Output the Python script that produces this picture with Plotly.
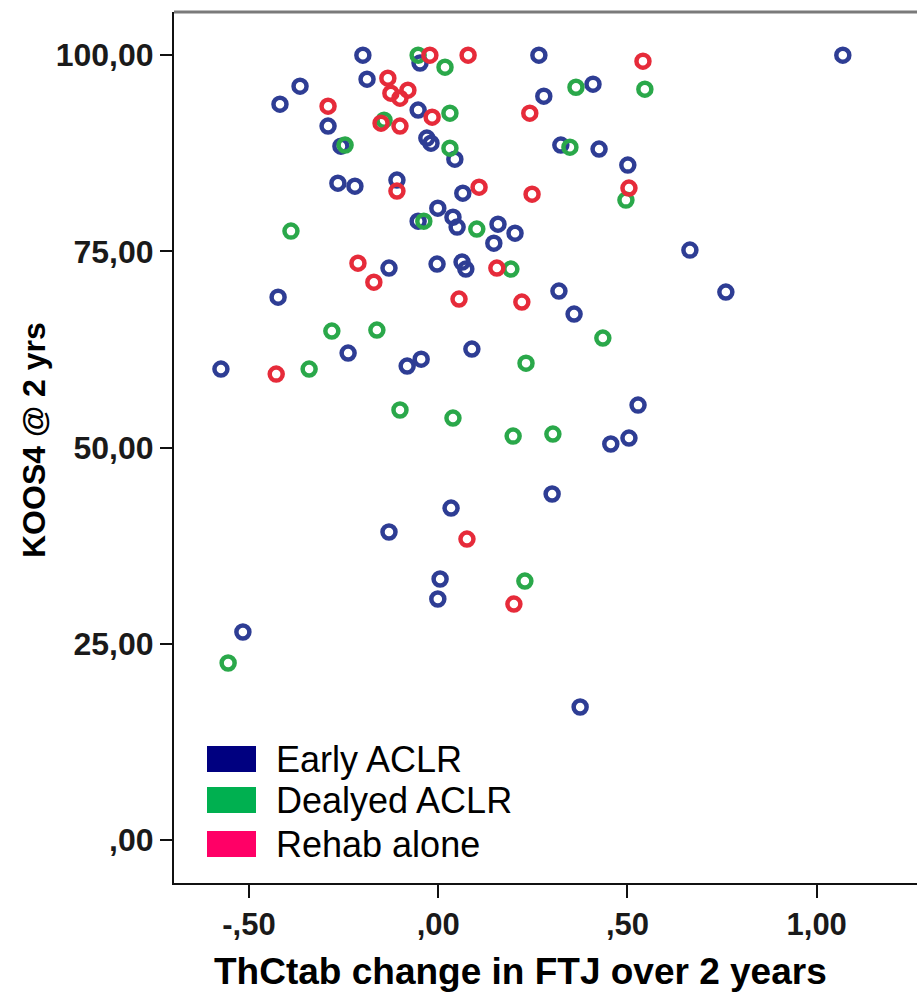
import plotly.graph_objects as go

# ---------------- data ----------------
groups = ["Early ACLR", "Dealyed ACLR", "Rehab alone"]

early_x = [-0.199, -0.048, 0.266, 1.069, -0.365, -0.188, -0.418, -0.053, 0.279, 0.409,
           -0.291, -0.257, -0.030, -0.019, 0.044, 0.324, 0.425, 0.501, -0.265, -0.220,
           -0.109, 0.065, -0.001, 0.039, 0.050, -0.053, 0.158, 0.203, 0.147, 0.665,
           0.760, -0.130, -0.003, 0.063, 0.073, -0.423, 0.319, 0.359, -0.238, -0.574,
           -0.082, -0.045, 0.089, 0.528, 0.456, 0.504, 0.301, 0.034, -0.130, 0.005,
           -0.001, -0.516, 0.375]
early_y = [100.0, 99.0, 100.0, 100.0, 96.05, 96.94, 93.76, 93.0, 94.78, 96.31,
           90.96, 88.41, 89.43, 88.79, 86.75, 88.54, 88.03, 85.99, 83.69, 83.31,
           84.08, 82.42, 80.51, 79.36, 78.09, 78.85, 78.47, 77.32, 76.05, 75.16,
           69.81, 72.87, 73.38, 73.63, 72.74, 69.17, 69.94, 67.01, 62.04, 60.0,
           60.38, 61.27, 62.55, 55.41, 50.45, 51.21, 44.08, 42.29, 39.24, 33.25,
           30.70, 26.50, 16.94]

delayed_x = [-0.053, 0.018, 0.364, 0.546, -0.246, 0.031, 0.031, 0.348, 0.496, -0.143,
             -0.038, 0.102, -0.389, 0.192, 0.435, -0.281, -0.162, -0.341, 0.232, -0.101,
             0.039, 0.198, 0.303, 0.229, -0.555]
delayed_y = [100.0, 98.47, 95.92, 95.67, 88.54, 92.61, 88.15, 88.28, 81.53, 91.72,
             78.85, 77.84, 77.58, 72.74, 63.95, 64.84, 64.97, 60.0, 60.76, 54.78,
             53.76, 51.46, 51.72, 32.99, 22.55]

rehab_x = [-0.022, 0.079, 0.541, -0.133, -0.125, -0.101, -0.080, -0.291, -0.016, 0.242,
           -0.151, -0.101, -0.109, 0.108, 0.248, 0.504, -0.212, -0.170, 0.155, 0.055,
           0.221, -0.428, 0.076, 0.200]
rehab_y = [100.0, 100.0, 99.24, 97.07, 95.16, 94.52, 95.54, 93.50, 92.10, 92.61,
           91.34, 90.96, 82.68, 83.18, 82.29, 83.06, 73.50, 71.08, 72.87, 68.92,
           68.54, 59.36, 38.34, 30.06]

x_tickvals = [-0.5, 0.0, 0.5, 1.0]
x_ticktext = ["-,50", ",00", ",50", "1,00"]
y_tickvals = [0, 25, 50, 75, 100]
y_ticktext = [",00", "25,00", "50,00", "75,00", "100,00"]

x_title = "ThCtab change in FTJ over 2 years"
y_title = "KOOS4 @ 2 yrs"

# ---------------- styling ----------------
W, H = 917, 995
L, R, T, B = 174, 0, 12, 112
marker_colors = ["#2e3d94", "#2aa84a", "#e62b3a"]
legend_colors = ["#000080", "#00b050", "#ff0066"]
FONT = "Liberation Sans, Arial, sans-serif"

fig = go.Figure()
for name, xs, ys, col in zip(groups,
                             [early_x, delayed_x, rehab_x],
                             [early_y, delayed_y, rehab_y],
                             marker_colors):
    fig.add_trace(go.Scatter(
        x=xs, y=ys, mode="markers", name=name, showlegend=False,
        marker=dict(symbol="circle-open", size=13, color=col,
                    line=dict(width=4.5, color=col)),
    ))

pw = W - L - R
ph = H - T - B


def px2paper_x(px):
    return (px - L) / pw


def px2paper_y(py):
    return (H - B - py) / ph


shapes = []
annotations = []

# top frame line
shapes.append(dict(type="line", xref="paper", yref="paper", x0=0, x1=1, y0=1, y1=1,
                   line=dict(color="#7a7a7a", width=3)))

# manual legend (boxes + labels)
leg_centers = [759, 800, 844]
for name, col, cy in zip(groups, legend_colors, leg_centers):
    shapes.append(dict(type="rect", xref="paper", yref="paper",
                       x0=px2paper_x(207), x1=px2paper_x(256),
                       y0=px2paper_y(cy + 13), y1=px2paper_y(cy - 13),
                       fillcolor=col, line=dict(width=0)))
    annotations.append(dict(text=name, xref="paper", yref="paper",
                            x=px2paper_x(274), y=px2paper_y(cy),
                            xanchor="left", yanchor="middle", showarrow=False,
                            font=dict(family=FONT, size=36, color="#000000")))

# axis titles
annotations.append(dict(text=x_title, xref="paper", yref="paper",
                        x=px2paper_x(520), y=px2paper_y(972),
                        xanchor="center", yanchor="middle", showarrow=False,
                        font=dict(family=FONT, size=37, color="#000000", weight="bold")))
annotations.append(dict(text=y_title, xref="paper", yref="paper",
                        x=px2paper_x(34), y=px2paper_y(440),
                        xanchor="center", yanchor="middle", showarrow=False, textangle=-90,
                        font=dict(family=FONT, size=32, color="#000000", weight="bold")))

fig.update_layout(
    width=W, height=H,
    margin=dict(l=L, r=R, t=T, b=B, pad=0),
    paper_bgcolor="white", plot_bgcolor="white",
    shapes=shapes, annotations=annotations,
    showlegend=False,
    xaxis=dict(range=[-0.698, 1.265], tickvals=x_tickvals, ticktext=x_ticktext,
               showgrid=False, zeroline=False, showline=True, linecolor="#111111",
               linewidth=2, ticks="outside", ticklen=13, tickwidth=2, tickcolor="#111111",
               tickfont=dict(family=FONT, size=31, color="#1a1a1a", weight="bold"),
               fixedrange=True),
    yaxis=dict(range=[-5.48, 105.5], tickvals=y_tickvals, ticktext=y_ticktext,
               showgrid=False, zeroline=False, showline=True, linecolor="#111111",
               linewidth=2, ticks="outside", ticklen=12, tickwidth=2, tickcolor="#111111",
               tickfont=dict(family=FONT, size=32, color="#1a1a1a", weight="bold"),
               fixedrange=True),
)

fig.write_html("out.html")
